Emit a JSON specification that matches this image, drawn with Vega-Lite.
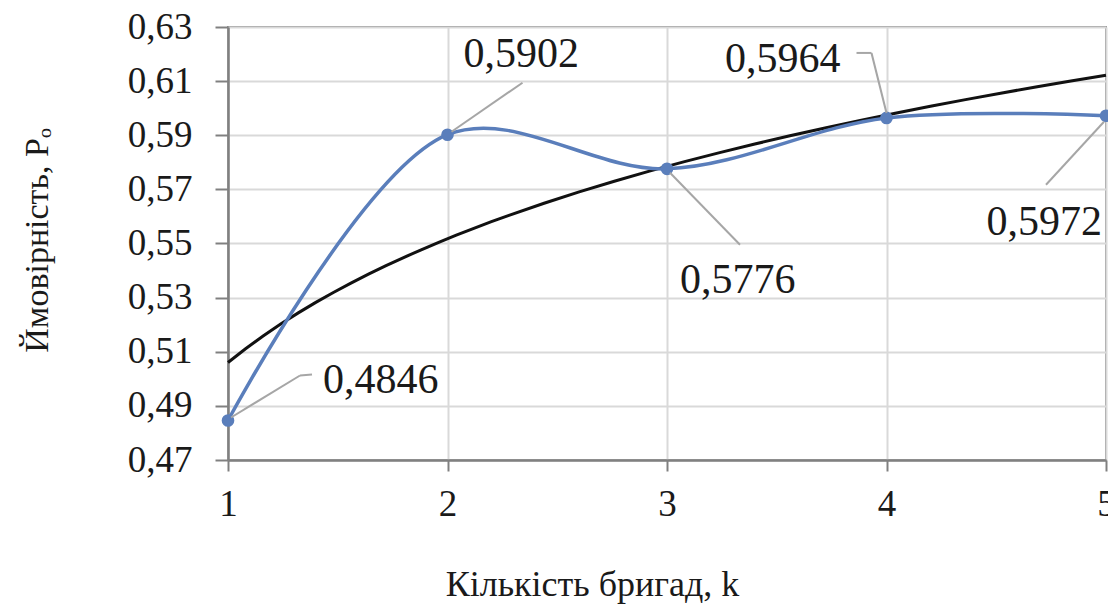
{
  "$schema": "https://vega.github.io/schema/vega-lite/v6.json",
  "width": 878,
  "height": 433,
  "autosize": {"type": "none"},
  "padding": {"left": 228, "top": 27, "right": 2, "bottom": 146},
  "background": "white",
  "config": {
    "locale": {"number": {"decimal": ",", "thousands": " ", "grouping": [3], "currency": ["", ""]}},
    "font": "Liberation Serif",
    "view": {"stroke": "#8c8c8c", "strokeWidth": 2},
    "axis": {
      "labelFont": "Liberation Serif",
      "titleFont": "Liberation Serif",
      "labelColor": "#1a1a1a",
      "titleColor": "#1a1a1a",
      "labelFontWeight": "normal",
      "titleFontWeight": "normal",
      "gridColor": "#d9d9d9",
      "gridWidth": 2,
      "domainColor": "#808080",
      "domainWidth": 2.5,
      "tickColor": "#808080",
      "tickWidth": 2
    }
  },
  "data": {
    "values": [
      {"k": 1, "p": 0.4846},
      {"k": 2, "p": 0.5902},
      {"k": 3, "p": 0.5776},
      {"k": 4, "p": 0.5964},
      {"k": 5, "p": 0.5972}
    ]
  },
  "encoding": {
    "x": {
      "field": "k", "type": "quantitative",
      "scale": {"domain": [1, 5], "nice": false, "zero": false},
      "axis": {
        "values": [1, 2, 3, 4, 5], "format": "d",
        "title": "Кількість бригад, k",
        "labelFontSize": 37, "titleFontSize": 36,
        "tickSize": 11, "labelPadding": 15,
        "labelBaseline": "top",
        "titleX": 364, "titleY": 135, "titleAlign": "center", "titleBaseline": "alphabetic",
        "labelFlush": false
      }
    },
    "y": {
      "field": "p", "type": "quantitative",
      "scale": {"domain": [0.47, 0.63], "nice": false, "zero": false},
      "axis": {
        "values": [0.47, 0.49, 0.51, 0.53, 0.55, 0.57, 0.59, 0.61, 0.63],
        "format": ".2f",
        "title": "Ймовірність, Pₒ",
        "labelFontSize": 37, "titleFontSize": 34,
        "tickSize": 13, "labelPadding": 23,
        "titleX": -181, "titleY": 213, "titleAlign": "center", "titleBaseline": "alphabetic", "titleAngle": 270
      }
    }
  },
  "layer": [
    {
      "transform": [{"regression": "p", "on": "k", "method": "log", "extent": [1, 5]}],
      "mark": {"type": "line", "color": "#111111", "strokeWidth": 3}
    },
    {
      "mark": {"type": "line", "color": "#5a7ebb", "strokeWidth": 3.5, "interpolate": "catmull-rom"}
    },
    {
      "mark": {"type": "point", "filled": true, "color": "#5a7ebb", "size": 160, "opacity": 1}
    },
    {
      "transform": [{"filter": "datum.k == 1"}],
      "layer": [
        {"mark": {"type": "rule", "color": "#a6a6a6", "strokeWidth": 2, "xOffset": 3, "yOffset": -3, "x2Offset": 72, "y2Offset": -45},
         "encoding": {"x2": {"field": "k"}, "y2": {"field": "p"}}},
        {"mark": {"type": "rule", "color": "#a6a6a6", "strokeWidth": 2, "xOffset": 72, "yOffset": -45, "x2Offset": 84, "y2Offset": -46},
         "encoding": {"x2": {"field": "k"}, "y2": {"field": "p"}}},
        {"mark": {"type": "text", "align": "left", "baseline": "alphabetic", "dx": 95, "dy": -27, "fontSize": 42, "color": "#1a1a1a"},
         "encoding": {"text": {"field": "p", "type": "quantitative", "format": ".4f"}}}
      ]
    },
    {
      "transform": [{"filter": "datum.k == 2"}],
      "layer": [
        {"mark": {"type": "rule", "color": "#a6a6a6", "strokeWidth": 2, "xOffset": 4, "yOffset": -3, "x2Offset": 75, "y2Offset": -52},
         "encoding": {"x2": {"field": "k"}, "y2": {"field": "p"}}},
        {"mark": {"type": "text", "align": "left", "baseline": "alphabetic", "dx": 16, "dy": -68, "fontSize": 42, "color": "#1a1a1a"},
         "encoding": {"text": {"field": "p", "type": "quantitative", "format": ".4f"}}}
      ]
    },
    {
      "transform": [{"filter": "datum.k == 3"}],
      "layer": [
        {"mark": {"type": "rule", "color": "#a6a6a6", "strokeWidth": 2, "xOffset": 3, "yOffset": 4, "x2Offset": 73, "y2Offset": 76},
         "encoding": {"x2": {"field": "k"}, "y2": {"field": "p"}}},
        {"mark": {"type": "text", "align": "left", "baseline": "alphabetic", "dx": 13, "dy": 124, "fontSize": 42, "color": "#1a1a1a"},
         "encoding": {"text": {"field": "p", "type": "quantitative", "format": ".4f"}}}
      ]
    },
    {
      "transform": [{"filter": "datum.k == 4"}],
      "layer": [
        {"mark": {"type": "rule", "color": "#a6a6a6", "strokeWidth": 2, "xOffset": 0, "yOffset": -5, "x2Offset": -15, "y2Offset": -65},
         "encoding": {"x2": {"field": "k"}, "y2": {"field": "p"}}},
        {"mark": {"type": "rule", "color": "#a6a6a6", "strokeWidth": 2, "xOffset": -15, "yOffset": -65, "x2Offset": -30, "y2Offset": -65},
         "encoding": {"x2": {"field": "k"}, "y2": {"field": "p"}}},
        {"mark": {"type": "text", "align": "right", "baseline": "alphabetic", "dx": -46, "dy": -46, "fontSize": 42, "color": "#1a1a1a"},
         "encoding": {"text": {"field": "p", "type": "quantitative", "format": ".4f"}}}
      ]
    },
    {
      "transform": [{"filter": "datum.k == 5"}],
      "layer": [
        {"mark": {"type": "rule", "color": "#a6a6a6", "strokeWidth": 2, "xOffset": -2, "yOffset": 6, "x2Offset": -60, "y2Offset": 69},
         "encoding": {"x2": {"field": "k"}, "y2": {"field": "p"}}},
        {"mark": {"type": "text", "align": "right", "baseline": "alphabetic", "dx": -4, "dy": 119, "fontSize": 42, "color": "#1a1a1a"},
         "encoding": {"text": {"field": "p", "type": "quantitative", "format": ".4f"}}}
      ]
    }
  ]
}
